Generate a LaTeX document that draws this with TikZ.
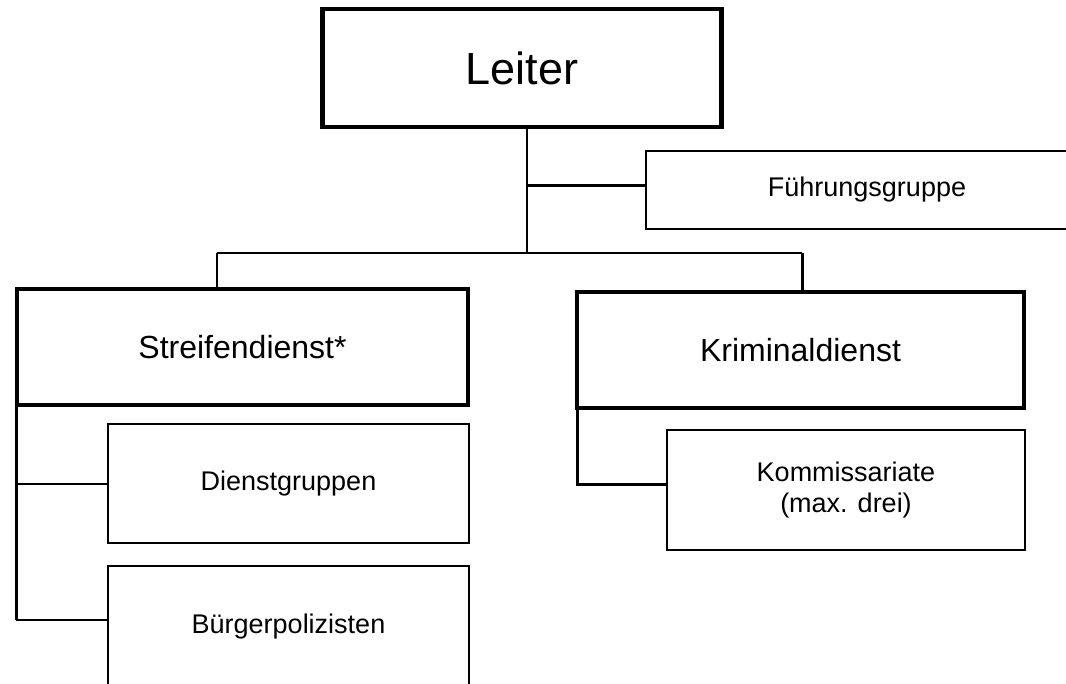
\documentclass[tikz,border=0pt]{standalone}
\usepackage{fontspec}
\setmainfont{Liberation Sans}
\begin{document}
\begin{tikzpicture}[x=1pt,y=-1pt,text badly centered,
	chief/.style={draw,rectangle,line width=4.5pt,inner sep=0pt,outer sep=0pt,font=\fontsize{45}{54}\selectfont},
	dept/.style={draw,rectangle,line width=4pt,inner sep=0pt,outer sep=0pt,font=\fontsize{32}{38}\selectfont},
	unit/.style={draw,rectangle,line width=1.6pt,inner sep=0pt,outer sep=0pt,align=center,font=\fontsize{27}{31}\selectfont},
	link/.style={line width=2pt},
	heavylink/.style={line width=3pt}]

	\clip (0,0) rectangle (1066,683);

	\node[chief,minimum width=399pt,minimum height=118pt] (leiter) at (522,68) {Leiter};
	\node[unit,minimum width=442pt,minimum height=78pt] (fuehr) at (867,190) {Führungsgruppe};

	\begin{scope}[every node/.style={dept,minimum height=116pt}]
		\node[minimum width=451pt] (streif) at (242.5,347) {Streifendienst*};
		\node[minimum width=447pt] (krimi) at (800.5,350) {Kriminaldienst};
	\end{scope}

	\begin{scope}[every node/.style={unit,minimum width=361pt,minimum height=119pt}]
		\node (dienst) at (288.5,483.5) {Dienstgruppen};
		\node[minimum height=122pt] (buerger) at (288.5,627) {Bürgerpolizisten};
	\end{scope}
	\node[unit,minimum width=358pt,minimum height=120pt] (komm) at (846,490) {Kommissariate\\(max. drei)};

	% connectors
	\coordinate (hub) at (527,253);
	\coordinate (barL) at (217,253);
	\coordinate (barR) at (802,253);
	\coordinate (sbend) at (16,620);

	\draw[link] (leiter.south -| hub) -- (hub);
	\draw[heavylink] (hub |- 0,185) -- ([yshift=5pt]fuehr.west);
	\draw[link] (barL) -- (barR);
	\draw[link] (barL) -- (barL |- streif.north);
	\draw[heavylink] (barR) -- (barR |- krimi.north);

	\draw[heavylink] (streif.south west -| sbend) -- (sbend);
	\draw[link] (sbend) -- (sbend -| buerger.west);
	\draw[link] (sbend |- dienst.west) -- (dienst.west);

	\draw[heavylink] (krimi.south west) |- ([yshift=6pt]komm.west);

\end{tikzpicture}
\end{document}
